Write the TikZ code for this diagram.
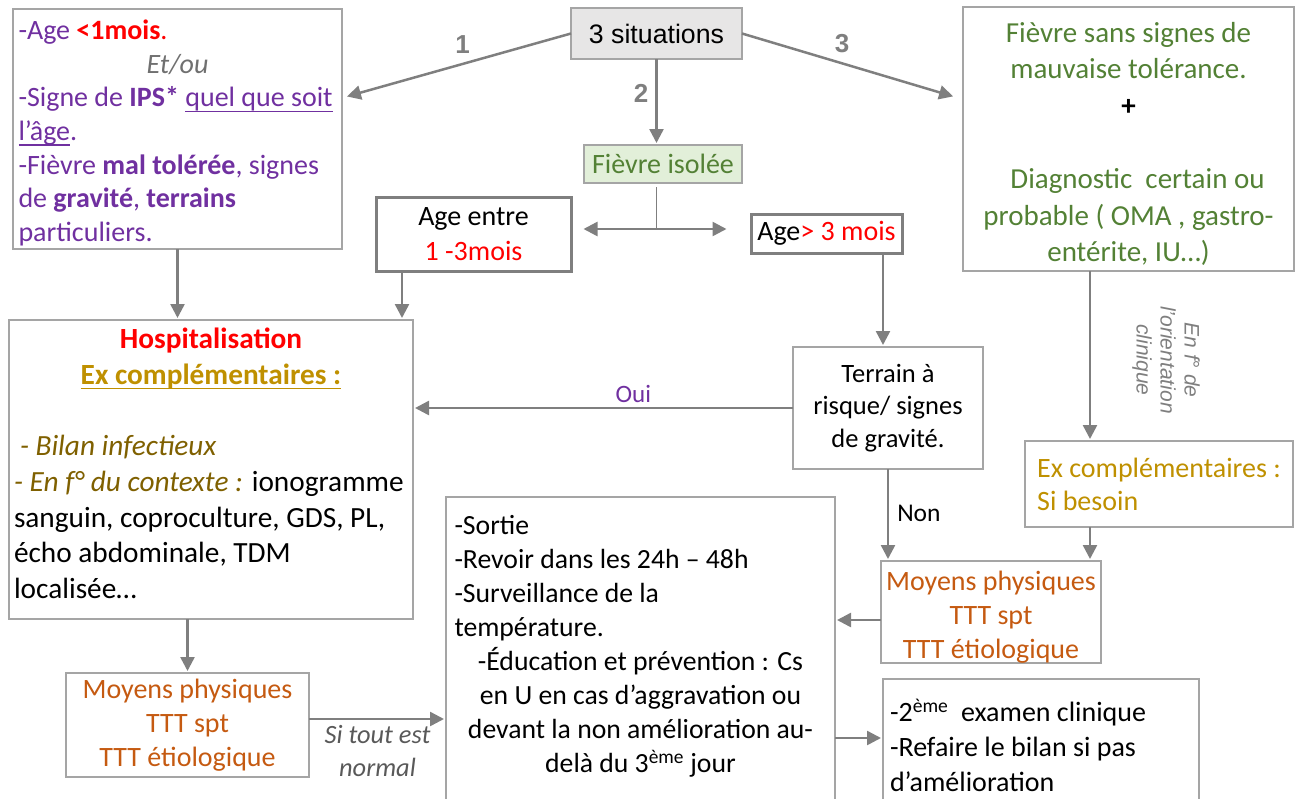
\documentclass[tikz,border=0pt]{standalone}
\usepackage{fontspec}
\setmainfont{Carlito}
\newfontfamily\arialfont{Liberation Sans}
\usetikzlibrary{arrows.meta,calc}
\newcommand\setfs[2]{\fontsize{#1pt}{#2pt}\selectfont}
% underline drawn as a rule a few points under the baseline
\newcommand\undl[1]{\leavevmode\setbox0\hbox{#1}\rlap{\rule[-5pt]{\wd0}{1.3pt}}\box0}

\definecolor{cpurple}{HTML}{7030A0}
\definecolor{cred}{HTML}{FF0000}
\definecolor{cgreen}{HTML}{538135}
\definecolor{cgold}{HTML}{BF9000}
\definecolor{colive}{HTML}{7F6000}
\definecolor{corange}{HTML}{C55A11}
\definecolor{carrow}{HTML}{7F7F7F}
\definecolor{cborder}{HTML}{A5A5A5}
\definecolor{cgrayfill}{HTML}{E7E6E6}
\definecolor{cgreenfill}{HTML}{E2EFD9}
\definecolor{cetou}{HTML}{707070}
\definecolor{cnote}{HTML}{595959}

\tikzset{
  box/.style={draw=cborder, line width=1.5pt, inner sep=0pt, outer sep=0pt, anchor=north west},
  thickbox/.style={box, draw=carrow, line width=3pt},
  arr/.style={draw=carrow, line width=2.5pt, -{Triangle[length=14pt,width=14pt]}, shorten >=2pt},
  darr/.style={draw=carrow, line width=2.5pt, {Triangle[length=14pt,width=14pt]}-{Triangle[length=14pt,width=14pt]}},
  thinline/.style={draw=carrow, line width=1pt},
  num/.style={font=\arialfont\bfseries\setfs{26}{30}, text=carrow, inner sep=0pt},
  lbl/.style={inner sep=0pt},
}

\begin{document}
\begin{tikzpicture}[x=1pt,y=-1pt]
\useasboundingbox (0,0) rectangle (1298,798);
\clip (0,0) rectangle (1298,798);

% ---- boxes ----
\node[box, minimum width=329pt, minimum height=240pt, text=cpurple] (lb) at (13,9) {\begin{minipage}{318pt}\setfs{28}{33.7}\raggedright
\vspace*{8pt}
-Age \textcolor{cred}{\textbf{<1mois}.}\par
{\centering\textcolor{cetou}{\textit{Et/ou}}\par}
-Signe de \textbf{IPS*} \undl{quel que soit}\\
\undl{l’âge}.\\
-Fièvre \textbf{mal tolérée}, signes\\
de \textbf{gravité}, \textbf{terrains}\\
particuliers.
\end{minipage}};

\node[box, fill=cgrayfill, minimum width=171pt, minimum height=51pt, font=\arialfont\setfs{26.7}{30}] (sit) at (571,8) {3 situations};

\node[box, minimum width=331pt, minimum height=264pt, text=cgreen] (rt) at (963,7) {\begin{minipage}{318pt}\setfs{29}{36.3}\centering
\vspace*{10pt}
Fièvre sans signes de\\
mauvaise tolérance.\\
\textcolor{black}{\textbf{+}}\\[37.5pt]
\hspace*{18pt}Diagnostic\ \ certain ou\\
probable ( OMA , gastro-\\
entérite, IU…)
\end{minipage}};

\node[box, fill=cgreenfill, minimum width=158pt, minimum height=38pt, text=cgreen, font=\setfs{28}{34}] (fi) at (584,145) {Fièvre isolée};

\node[thickbox, minimum width=195pt, minimum height=74pt, align=center, font=\setfs{28}{35}] (ageA) at (376,197) {Age entre\\\textcolor{cred}{1 -3mois}};

\node[thickbox, minimum width=151pt, minimum height=39pt, font=\setfs{28}{34}] (ageB) at (751,214) {Age\textcolor{cred}{> 3 mois}};

\node[box, minimum width=404pt, minimum height=299pt] (hosp) at (9,320) {\begin{minipage}{394pt}\setfs{29.3}{35.7}\raggedright
{\centering\textcolor{cred}{\textbf{Hospitalisation}}\\
\textcolor{cgold}{\textbf{\undl{Ex complémentaires :}}}\par}
\mbox{}\par
\textcolor{colive}{\textit{\hspace*{6pt}- Bilan infectieux}}\\
\textcolor{colive}{\textit{- En f° du contexte :}} ionogramme\\
sanguin, coproculture, GDS, PL,\\
écho abdominale, TDM\\
localisée…\par
\vspace*{12pt}
\end{minipage}};

\node[box, minimum width=190pt, minimum height=122pt, align=center, font=\setfs{26.5}{32.5}] (terr) at (793,347) {Terrain à\\risque/ signes\\de gravité.};

\node[box, minimum width=268pt, minimum height=86pt, align=left, text=cgold, font=\setfs{28}{33}] (exc) at (1025,441) {Ex complémentaires :\\Si besoin};

\node[box, minimum width=220pt, minimum height=102pt, align=center, text=corange, font=\setfs{28}{34}] (moyR) at (881,561) {\rule{0pt}{29pt}Moyens physiques\\TTT spt\\TTT étiologique};

\node[box, minimum width=243pt, minimum height=104pt, align=center, text=corange, font=\setfs{28}{34}] (moyL) at (66,673) {Moyens physiques\\TTT spt\\TTT étiologique};

\node[box, minimum width=389pt, minimum height=316pt] (sortie) at (446,497) {\begin{minipage}{372pt}\setfs{27.7}{34}\raggedright
-Sortie\\
-Revoir dans les 24h – 48h\\
-Surveillance de la\\
température.\par
{\centering -Éducation et prévention : Cs\\
en U en cas d’aggravation ou\\
devant la non amélioration au-\\
delà du 3\textsuperscript{ème} jour\par}
\vspace*{18pt}
\end{minipage}};

\node[box, minimum width=316pt, minimum height=132pt] (deux) at (883,679) {\begin{minipage}{302pt}\setfs{28}{35}\raggedright
-2\textsuperscript{ème}\ \ examen clinique\\
-Refaire le bilan si pas\\
d’amélioration
\end{minipage}};

% ---- connectors from "3 situations" ----
\coordinate (a1end) at ($(lb.north east)+(3,88)$);
\coordinate (a3end) at ($(rt.north west)+(-8,90)$);
\draw[arr] (sit.west) -- node[num, pos=0.48, above=9pt] (n1) {1} (a1end);
\draw[arr] (sit.east) -- node[num, pos=0.47, above=9pt] (n3) {3} (a3end);
\draw[arr] (sit.south) -- node[num, pos=0.40, left=7pt] (n2) {2} (sit.south |- fi.north);

% ---- split below "Fièvre isolée" ----
\coordinate (fiout) at (sit.south |- fi.south);
\coordinate (jn) at ($(fiout)+(0,46)$);
\coordinate (jnL) at ($(jn)+(-73,0)$);
\coordinate (jnR) at ($(jn)+(70,0)$);
\draw[thinline] ($(fiout)+(0,4)$) -- (jn);
\draw[darr] (jnL) -- (jnR);

% ---- towards hospitalisation ----
\draw[arr] (lb.south) -- (lb.south |- hosp.north);
\coordinate (ageAout) at ($(ageA.south west)+(26,0)$);
\draw[arr] (ageAout) -- (ageAout |- hosp.north);

% ---- age > 3 mois branch ----
\coordinate (ageBout) at ($(ageB.south east)+(-19,0)$);
\draw[arr] (ageBout) -- (ageBout |- terr.north);
\draw[arr] (terr.west) -- node[lbl, pos=0.42, above=4pt, text=cpurple, font=\setfs{25}{30}] (oui) {Oui} (hosp.east |- terr.west);
\draw[arr] (terr.south) -- node[lbl, pos=0.48, right=8pt, font=\setfs{25.5}{30}] (non) {Non} (terr.south |- moyR.north);

% ---- situation 3 branch ----
\coordinate (rtout) at ($(rt.south west)+(127,0)$);
\draw[arr] (rtout) -- (rtout |- exc.north);
\node[lbl, rotate=-90, align=center, text=carrow, font=\arialfont\itshape\setfs{21}{24}] (orient) at (1166,360) {En f° de\\l’orientation\\clinique};
\draw[arr] (rtout |- exc.south) -- (rtout |- moyR.north);

% ---- towards follow-up ----
\coordinate (moyRout) at ($(moyR.south west)+(0,-43)$);
\draw[arr] (moyRout) -- (sortie.east |- moyRout);
\coordinate (deuxin) at ($(deux.north west)+(0,59)$);
\draw[arr] (sortie.east |- deuxin) -- (deuxin);
\draw[arr] (moyL.north |- hosp.south) -- (moyL.north);
\coordinate (moyLout) at ($(moyL.north east)+(0,46)$);
\draw[arr] (moyLout) -- node[lbl, below=5pt, align=center, text=cnote, font=\itshape\setfs{26.4}{33}] (normal) {Si tout est\\normal} (sortie.west |- moyLout);
\end{tikzpicture}
\end{document}
